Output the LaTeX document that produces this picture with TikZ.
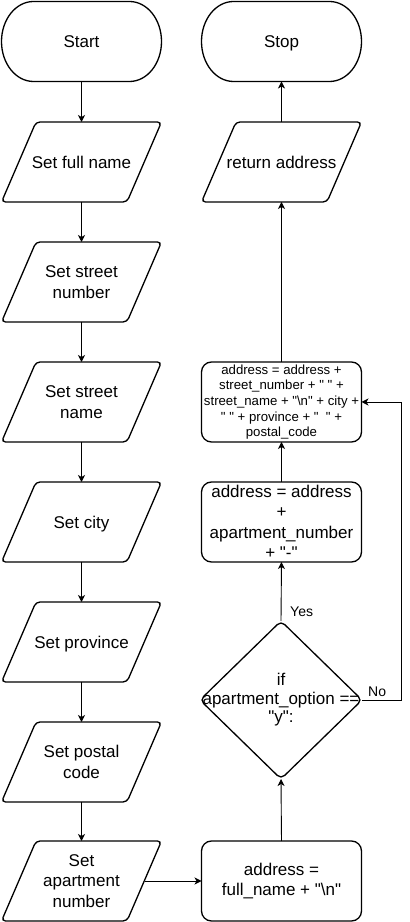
\documentclass[tikz,border=0pt]{standalone}
\usepackage{fontspec}
\setmainfont{Liberation Sans}[Ligatures=TeXOff]
\usetikzlibrary{arrows.meta}
\tikzset{
  box/.style={draw=none, inner sep=0, outer sep=0, minimum width=160, minimum height=80,
    align=center, font=\fontsize{17}{20.5}\selectfont, text=black},
  nodepth/.style={text depth=0pt},
  shp/.style={draw=black, line width=1.3pt},
  arr/.style={draw=black, line width=0.9pt, -{Stealth[length=7pt,width=7pt,inset=2pt]}},
  lbl/.style={font=\fontsize{14}{16}\selectfont, anchor=west, inner sep=0}
}
\newcommand\termshape[1]{\draw[shp] ([xshift=-48]#1.north) -- ([xshift=48]#1.north)
  arc[start angle=90,end angle=-90,x radius=32,y radius=40] -- ([xshift=-48]#1.south)
  arc[start angle=270,end angle=90,x radius=32,y radius=40] -- cycle;}
\newcommand\pgshape[1]{\draw[shp, rounded corners=4] ([xshift=-45.5]#1.north) -- (#1.north east)
  -- ([xshift=45.5]#1.south) -- (#1.south west) -- cycle;}
\newcommand\rrshape[1]{\draw[shp, rounded corners=10] (#1.north west) rectangle (#1.south east);}
\newcommand\dmshape[1]{\draw[shp, rounded corners=5] (#1.north) -- (#1.east) -- (#1.south) -- (#1.west) -- cycle;}
\begin{document}
\begin{tikzpicture}[x=1pt,y=1pt]
\useasboundingbox (0,0) rectangle (410,922);
% left column
\node[box] (start) at (81.5,880.5) {Start};
\node[box] (fn) at (81.5,760) {Set full name};
\node[box] (sn) at (81.5,640) {Set street\\number};
\node[box] (sna) at (81.5,520) {Set street\\name};
\node[box, nodepth] (city) at (81.5,400) {Set city};
\node[box, nodepth] (prov) at (81.5,280) {Set province};
\node[box] (pc) at (81.5,160) {Set postal\\code};
\node[box] (apt) at (81.5,41) {Set\\apartment\\number};
% right column
\node[box] (r1) at (281.5,41) {address =\\full\_name + "\textbackslash n"};
\node[box, minimum width=162, minimum height=158, font=\fontsize{17}{18.5}\selectfont] (d) at (281,222) {if\\apartment\_option ==\\"y":};
\node[box] (r2) at (281.5,400) {address = address\\+\\apartment\_number\\+ "-"};
\node[box, font=\fontsize{13.2}{15.6}\selectfont] (r3) at (281.5,520) {address = address +\\street\_number + "~" +\\street\_name + "\textbackslash n" + city +\\"~" + province + "~~" +\\postal\_code};
\node[box] (ret) at (281.5,760) {return address};
\node[box, nodepth] (stop) at (281.5,880.5) {Stop};
% shapes
\termshape{start}
\termshape{stop}
\pgshape{fn}
\pgshape{sn}
\pgshape{sna}
\pgshape{city}
\pgshape{prov}
\pgshape{pc}
\pgshape{apt}
\pgshape{ret}
\rrshape{r1}
\rrshape{r2}
\rrshape{r3}
\dmshape{d}
% connectors
\draw[arr] (start.south) -- (fn.north);
\draw[arr] (fn.south) -- (sn.north);
\draw[arr] (sn.south) -- (sna.north);
\draw[arr] (sna.south) -- (city.north);
\draw[arr] (city.south) -- (prov.north);
\draw[arr] (prov.south) -- (pc.north);
\draw[arr] (pc.south) -- (apt.north);
\draw[arr] ([xshift=-17]apt.east) -- (r1.west);
\draw[arr] (r1.north) -- (d.south);
\draw[arr] (d.north) -- (r2.south);
\draw[arr] (d.east) -- ++(39,0) |- (r3.east);
\draw[arr] (r2.north) -- (r3.south);
\draw[arr] (r3.north) -- (ret.south);
\draw[arr] (ret.north) -- (stop.south);
% labels
\node[lbl] (yes) at (290,310) {Yes};
\node[lbl] (no) at (368,230) {No};
\end{tikzpicture}
\end{document}
